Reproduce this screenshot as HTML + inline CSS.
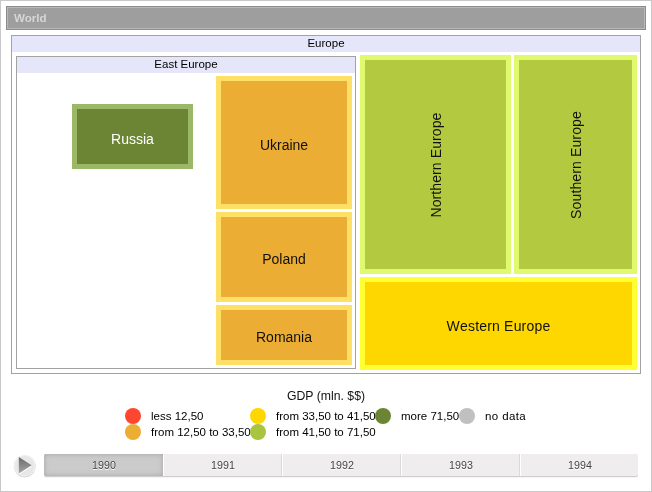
<!DOCTYPE html>
<html>
<head>
<meta charset="utf-8">
<title>World</title>
<style>
html,body{margin:0;padding:0;}
body{width:652px;height:492px;position:relative;overflow:hidden;background:#fff;font-family:"Liberation Sans",Arial,sans-serif;}
.a{position:absolute;box-sizing:border-box;}
#frame{left:0;top:0;width:652px;height:492px;border:1px solid #c8c8c8;}
#hdr{left:6px;top:6px;width:640px;height:24px;border:1px solid #8c8c8c;background:#9e9e9e;}
#hdr i{position:absolute;left:0;top:0;right:0;bottom:0;border:1px solid #b8b8b8;}
#hdr span{position:absolute;left:7px;top:4px;font-size:11.6px;line-height:14px;font-weight:bold;color:#d6d6d6;}
.grp{border:1px solid #a2a2a2;background:#fff;}
.gh{left:0;top:0;right:0;height:16px;background:#e6e6fa;text-align:center;font-size:11.5px;line-height:14px;color:#000;}
.cell{border-style:solid;border-width:5px;}
.cell span{position:absolute;white-space:nowrap;font-size:14px;line-height:16px;color:#111;font-kerning:none;left:50%;top:50%;transform:translate(-50%,-50%);margin-top:2px;}
.cell span.v{transform:translate(-50%,-50%) rotate(-90deg);margin-top:0;margin-left:0;}
.or{background:#ebad33;border-color:#ffe066;}
.li{background:#b2c940;border-color:#e0fa70;}
.ye{background:#ffd700;border-color:#ffff33;}
.dg{background:#6b8534;border-color:#9bb868;}
.dot{width:16px;height:16px;border-radius:8px;}
.lt{font-size:11.5px;line-height:16px;color:#000;white-space:nowrap;}
#tl{left:44px;top:454px;width:594px;height:22px;border-radius:2px;background:#efeded;box-shadow:0 1px 0 #cfcfcf,0 2px 0 #f4f4f4;}
.seg{top:0;height:22px;border-left:1px solid #fff;border-right:1px solid #dadada;text-align:center;font-size:10.7px;line-height:22px;color:#444;padding-left:1px;text-shadow:0 1px 0 #fff;}
</style>
</head>
<body>
<div class="a" id="frame"></div>
<div class="a" id="hdr"><i></i><span>World</span></div>

<div class="a grp" style="left:11px;top:35px;width:630px;height:339px;">
  <div class="a gh">Europe</div>
</div>
<div class="a grp" style="left:16px;top:56px;width:340px;height:313px;">
  <div class="a gh">East Europe</div>
</div>

<div class="a cell dg" style="left:72px;top:104px;width:121px;height:65px;"><span style="color:#fff">Russia</span></div>
<div class="a cell or" style="left:216px;top:76px;width:136px;height:133px;"><span>Ukraine</span></div>
<div class="a cell or" style="left:216px;top:212px;width:136px;height:90px;"><span>Poland</span></div>
<div class="a cell or" style="left:216px;top:305px;width:136px;height:60px;"><span>Romania</span></div>
<div class="a cell li" style="left:360px;top:55px;width:151px;height:219px;"><span class="v" style="letter-spacing:0.1px">Northern Europe</span></div>
<div class="a cell li" style="left:514px;top:55px;width:123px;height:219px;"><span class="v" style="letter-spacing:0.13px">Southern Europe</span></div>
<div class="a cell ye" style="left:360px;top:277px;width:277px;height:93px;"><span style="letter-spacing:0.19px">Western Europe</span></div>

<div class="a" style="left:0;top:388px;width:652px;text-align:center;font-size:12.25px;line-height:16px;color:#111;">GDP (mln. $$)</div>

<div class="a dot" style="left:125px;top:408px;background:#ff4630;"></div>
<div class="a lt" style="left:151px;top:408px;">less 12,50</div>
<div class="a dot" style="left:125px;top:424px;background:#ebad33;"></div>
<div class="a lt" style="left:151px;top:424px;">from 12,50 to 33,50</div>
<div class="a dot" style="left:250px;top:408px;background:#ffd700;"></div>
<div class="a lt" style="left:276px;top:408px;">from 33,50 to 41,50</div>
<div class="a dot" style="left:250px;top:424px;background:#a9c43e;"></div>
<div class="a lt" style="left:276px;top:424px;">from 41,50 to 71,50</div>
<div class="a dot" style="left:375px;top:408px;background:#6b8534;"></div>
<div class="a lt" style="left:401px;top:408px;">more 71,50</div>
<div class="a dot" style="left:459px;top:408px;background:#c0c0c0;"></div>
<div class="a lt" style="left:485px;top:408px;letter-spacing:0.4px;">no data</div>

<svg class="a" style="left:12px;top:453px;" width="28" height="28" viewBox="0 0 28 28">
  <defs>
    <linearGradient id="tg" x1="0" y1="0" x2="0" y2="1"><stop offset="0" stop-color="#6a6a6a"/><stop offset="1" stop-color="#a6a6a6"/></linearGradient>
  </defs>
  <circle cx="12.8" cy="13.3" r="10.9" fill="#cfcfcf"/>
  <circle cx="12.8" cy="12.7" r="10.8" fill="#f0f0f0"/>
  <circle cx="12.8" cy="12.7" r="9.6" fill="#e7e7e7"/>
  <path d="M6.8 5.1 L19.6 13.4 L6.8 21.5 Z" fill="#fff"/>
  <path d="M6.8 3.9 L19.6 12.3 L6.8 20.4 Z" fill="url(#tg)"/>
</svg>

<div class="a" id="tl">
  <div class="a seg" style="left:0;width:119px;background:#cbcbcb;border-left:none;border-right:none;border-radius:2px 0 0 2px;box-shadow:inset 0 0 5px 0 #a4a4a4;">1990</div>
  <div class="a seg" style="left:119px;width:119px;">1991</div>
  <div class="a seg" style="left:238px;width:119px;">1992</div>
  <div class="a seg" style="left:357px;width:119px;">1993</div>
  <div class="a seg" style="left:476px;width:118px;border-right:none;border-radius:0 2px 2px 0;">1994</div>
</div>
</body>
</html>
